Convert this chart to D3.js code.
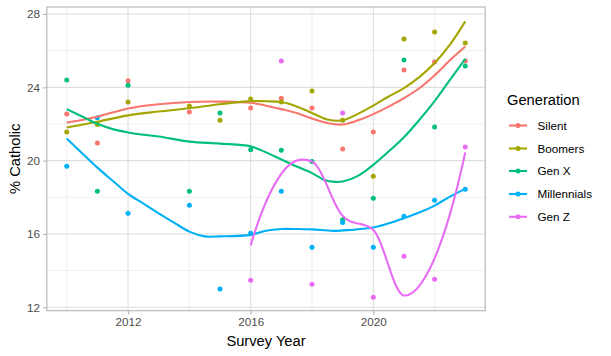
<!DOCTYPE html>
<html><head><meta charset="utf-8">
<script src="https://cdn.jsdelivr.net/npm/d3@7"></script>
<style>body{margin:0;background:#fff}svg{display:block;font-family:"Liberation Sans",Arial,sans-serif}</style>
</head><body><svg id="c" width="611" height="356"></svg>
<script>
const generations = ["Silent","Boomers","Gen X","Millennials","Gen Z"];
const colors = ["#F8766D","#A3A500","#00BF7D","#00B0F6","#E76BF3"];
// observed points
const silentYears = [2010,2011,2012,2014,2016,2017,2018,2019,2020,2021,2022,2023];
const silentVals  = [22.54,20.96,24.36,22.65,22.87,23.41,22.87,20.63,21.56,24.94,25.38,25.43];
const boomerYears = [2010,2011,2012,2014,2015,2016,2017,2018,2019,2020,2021,2022,2023];
const boomerVals  = [21.56,21.97,23.20,22.98,22.21,23.36,23.20,23.80,22.21,19.15,26.64,27.02,26.42];
const genXYears = [2010,2011,2012,2014,2015,2016,2017,2018,2019,2020,2021,2022,2023];
const genXVals  = [24.40,18.33,24.12,18.33,22.60,20.59,20.57,19.95,16.77,17.95,25.49,21.83,25.16];
const millYears = [2010,2011,2012,2014,2015,2016,2017,2018,2019,2020,2021,2022,2023];
const millVals  = [19.70,22.34,17.13,17.57,13.00,16.04,18.33,15.28,16.62,15.28,16.97,17.84,18.44];
const genZYears = [2016,2017,2018,2019,2020,2021,2022,2023];
const genZVals  = [13.47,25.43,13.26,22.60,12.55,14.79,13.53,20.74];
// smooth (trend) lines
const silentSmoothYears = [2010,2011,2012,2013,2014,2015,2016,2016.5,2017,2017.5,2018,2018.5,2019,2019.5,2020,2020.5,2021,2021.5,2022,2022.5,2023];
const silentSmoothVals  = [22.08,22.40,22.85,23.08,23.20,23.22,23.16,23.00,22.81,22.60,22.30,22.05,21.97,22.20,22.54,22.95,23.41,23.95,24.66,25.48,26.23];
const boomerSmoothYears = [2010,2011,2012,2013,2014,2015,2016,2016.5,2017,2017.5,2018,2018.5,2019,2019.5,2020,2020.5,2021,2021.5,2022,2022.5,2023];
const boomerSmoothVals  = [21.81,22.12,22.47,22.68,22.86,23.08,23.25,23.24,23.20,22.96,22.60,22.25,22.20,22.55,23.00,23.50,23.96,24.56,25.33,26.33,27.60];
const genXSmoothYears = [2010,2010.5,2011,2011.5,2012,2012.5,2013,2014,2015,2016,2016.5,2017,2017.5,2018,2018.4,2018.75,2019,2019.5,2020,2020.5,2021,2021.5,2022,2022.5,2023];
const genXSmoothVals  = [22.81,22.41,22.01,21.72,21.54,21.41,21.32,21.04,20.93,20.78,20.45,20.06,19.68,19.32,18.95,18.84,18.86,19.17,19.77,20.50,21.28,22.22,23.25,24.41,25.55];
const millSmoothYears = [2010,2010.5,2011,2011.5,2012,2012.5,2013,2013.5,2014,2014.5,2015,2016,2016.5,2017,2017.5,2018,2018.7,2019.25,2020,2020.5,2021,2021.5,2022,2022.5,2023];
const millSmoothVals  = [21.21,20.41,19.62,18.90,18.19,17.66,17.13,16.62,16.13,15.87,15.87,15.95,16.18,16.27,16.27,16.25,16.17,16.22,16.35,16.58,16.86,17.17,17.55,18.04,18.46];
const xTicks = [2012,2016,2020];
const xMinor = [2010,2014,2018,2022];
const yTicks = [12,16,20,24,28];
const yMinor = [14,18,22,26];

// local quadratic regression (loess, span 0.75) for the Gen Z trend
function localFit(xs, ys, x0, span){
  const n = xs.length, q = Math.floor(n*span);
  const d = xs.map(x=>Math.abs(x-x0));
  const sd = d.slice().sort((a,b)=>a-b);
  let h = sd[q-1]; if (h<=0) h = 1e-9;
  let S=[[0,0,0],[0,0,0],[0,0,0]], B=[0,0,0];
  for(let i=0;i<n;i++){
    const u=d[i]/h; if(u>=1) continue;
    const w=Math.pow(1-u*u*u,3);
    const t=xs[i]-x0, v=[1,t,t*t];
    for(let a=0;a<3;a++){B[a]+=w*v[a]*ys[i];for(let b=0;b<3;b++)S[a][b]+=w*v[a]*v[b];}
  }
  const M=S.map((r,i)=>r.concat([B[i]]));
  for(let c=0;c<3;c++){
    let p=c;for(let r=c+1;r<3;r++)if(Math.abs(M[r][c])>Math.abs(M[p][c]))p=r;
    [M[c],M[p]]=[M[p],M[c]];
    for(let r=0;r<3;r++){if(r===c)continue;const f=M[r][c]/M[c][c];for(let k=c;k<4;k++)M[r][k]-=f*M[c][k];}
  }
  return [M[0][3]/M[0][0], M[1][3]/M[1][1]];
}
function loessCurve(xs, ys, span, npts){
  const lo=d3.min(xs), hi=d3.max(xs), mu=0.005*(hi-lo);
  const sorted=xs.slice().sort((a,b)=>a-b);
  const verts=[lo-mu].concat(sorted.slice(0,-1)).concat([hi+mu]);
  const vv=verts.map(v=>localFit(xs,ys,v,span));
  return d3.range(npts).map(i=>{
    const xx=lo+(hi-lo)*i/(npts-1);
    let j=0; while(j<verts.length-2 && xx>verts[j+1]) j++;
    const x0=verts[j], x1=verts[j+1], hh=x1-x0, t=(xx-x0)/hh;
    const h00=2*t*t*t-3*t*t+1, h10=t*t*t-2*t*t+t, h01=-2*t*t*t+3*t*t, h11=t*t*t-t*t;
    return [xx, h00*vv[j][0]+h10*hh*vv[j][1]+h01*vv[j+1][0]+h11*hh*vv[j+1][1]];
  });
}
const zip = (a,b)=>a.map((v,i)=>[v,b[i]]);
const series = [
  {name:generations[0], color:colors[0], pts:zip(silentYears,silentVals), trend:zip(silentSmoothYears,silentSmoothVals)},
  {name:generations[1], color:colors[1], pts:zip(boomerYears,boomerVals), trend:zip(boomerSmoothYears,boomerSmoothVals)},
  {name:generations[2], color:colors[2], pts:zip(genXYears,genXVals), trend:zip(genXSmoothYears,genXSmoothVals)},
  {name:generations[3], color:colors[3], pts:zip(millYears,millVals), trend:zip(millSmoothYears,millSmoothVals)},
  {name:generations[4], color:colors[4], pts:zip(genZYears,genZVals), trend:loessCurve(genZYears,genZVals,0.75,80), raw:true}
];

const svg = d3.select("#c");
const L=46.8, R=485.2, T=7, B=310.7;
const x = d3.scaleLinear().domain([2009.35,2023.65]).range([L,R]);
const y = d3.scaleLinear().domain([11.815,28.382]).range([B,T]);

const g = svg.append("g");
g.selectAll(".xm").data(xMinor).join("line").attr("x1",d=>x(d)).attr("x2",d=>x(d)).attr("y1",T).attr("y2",B)
  .attr("stroke","#e4e4e4").attr("stroke-width",0.6);
g.selectAll(".ym").data(yMinor).join("line").attr("y1",d=>y(d)).attr("y2",d=>y(d)).attr("x1",L).attr("x2",R)
  .attr("stroke","#e4e4e4").attr("stroke-width",0.6);
g.selectAll(".xg").data(xTicks).join("line").attr("x1",d=>x(d)).attr("x2",d=>x(d)).attr("y1",T).attr("y2",B)
  .attr("stroke","#dedede").attr("stroke-width",1.1);
g.selectAll(".yg").data(yTicks).join("line").attr("y1",d=>y(d)).attr("y2",d=>y(d)).attr("x1",L).attr("x2",R)
  .attr("stroke","#dedede").attr("stroke-width",1.1);

series.forEach(s=>{
  g.append("g").selectAll("circle").data(s.pts).join("circle")
    .attr("cx",d=>x(d[0])).attr("cy",d=>y(d[1])).attr("r",2.5).attr("fill",s.color);
});
const smoothLine = d3.line().x(d=>x(d[0])).y(d=>y(d[1])).curve(d3.curveCatmullRom.alpha(0.5));
const rawLine = d3.line().x(d=>x(d[0])).y(d=>y(d[1]));
series.forEach(s=>{
  g.append("path").attr("d",(s.raw?rawLine:smoothLine)(s.trend)).attr("fill","none")
    .attr("stroke",s.color).attr("stroke-width",2.1);
});

g.append("rect").attr("x",L).attr("y",T).attr("width",R-L).attr("height",B-T)
  .attr("fill","none").attr("stroke","#b3b3b3").attr("stroke-width",1.1);

const xa = svg.append("g").attr("transform",`translate(0,${B})`)
  .call(d3.axisBottom(x).tickValues(xTicks).tickFormat(d3.format("d")).tickSizeOuter(0).tickSize(3.7).tickPadding(3));
const ya = svg.append("g").attr("transform",`translate(${L},0)`)
  .call(d3.axisLeft(y).tickValues(yTicks).tickFormat(d3.format("d")).tickSizeOuter(0).tickSize(3.7).tickPadding(3));
[xa,ya].forEach(a=>{
  a.select(".domain").remove();
  a.selectAll(".tick line").attr("stroke","#b3b3b3").attr("stroke-width",1.1);
  a.selectAll(".tick text").attr("fill","#4d4d4d").style("font-size","11.7px").style("font-family","Liberation Sans, Arial, sans-serif");
});

svg.append("text").attr("x",(L+R)/2).attr("y",346).attr("text-anchor","middle")
  .style("font-size","14.7px").attr("fill","#000").text("Survey Year");
svg.append("text").attr("transform",`translate(20,${(T+B)/2}) rotate(-90)`).attr("text-anchor","middle")
  .style("font-size","14.7px").attr("fill","#000").text("% Catholic");

const lg = svg.append("g");
lg.append("text").attr("x",507).attr("y",105).style("font-size","14.7px").attr("fill","#000").text("Generation");
const ly = [125.5,148.5,171,194,216.8];
series.forEach((s,i)=>{
  lg.append("line").attr("x1",509).attr("x2",527).attr("y1",ly[i]).attr("y2",ly[i]).attr("stroke",s.color).attr("stroke-width",2.1);
  lg.append("circle").attr("cx",518).attr("cy",ly[i]).attr("r",2.5).attr("fill",s.color);
  lg.append("text").attr("x",537.5).attr("y",ly[i]+4.2).style("font-size","11.7px").attr("fill","#000").text(s.name);
});
</script></body></html>
